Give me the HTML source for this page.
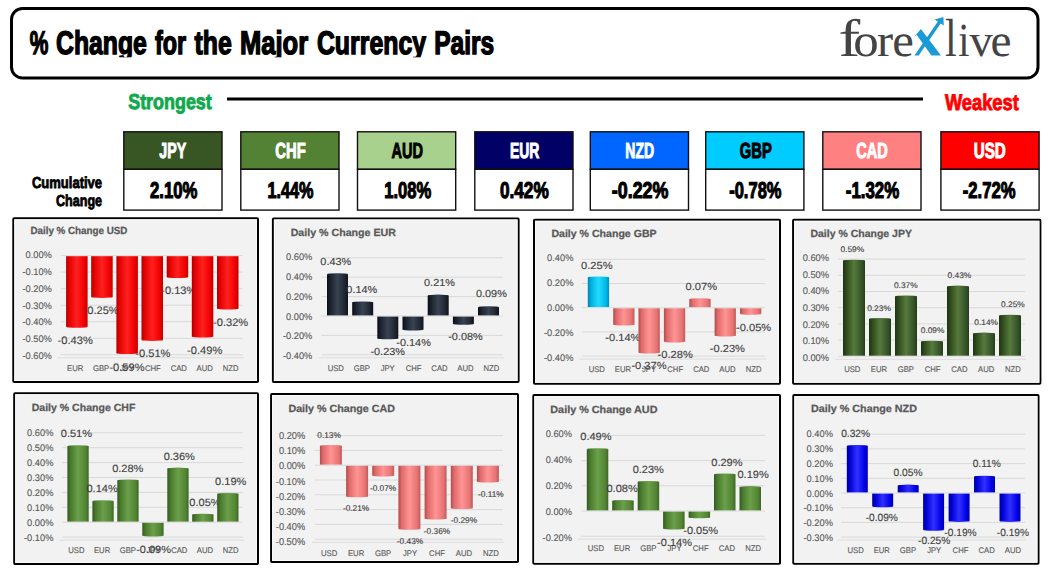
<!DOCTYPE html><html><head><meta charset="utf-8"><style>html,body{margin:0;padding:0;background:#fff;width:1049px;height:573px;overflow:hidden;position:relative}</style></head><body><svg width="1049" height="573" viewBox="0 0 1049 573" text-rendering="geometricPrecision" style="position:absolute;left:0;top:0">
<defs>
<linearGradient id="g_red" x1="0" x2="1" y1="0" y2="0"><stop offset="0" stop-color="#a80000"/><stop offset="0.12" stop-color="#e00000"/><stop offset="0.5" stop-color="#ff2020"/><stop offset="0.85" stop-color="#f00000"/><stop offset="1" stop-color="#c00000"/></linearGradient>
<linearGradient id="g_navy" x1="0" x2="1" y1="0" y2="0"><stop offset="0" stop-color="#0a0e14"/><stop offset="0.15" stop-color="#1a212c"/><stop offset="0.5" stop-color="#384352"/><stop offset="0.85" stop-color="#1e2530"/><stop offset="1" stop-color="#0e121a"/></linearGradient>
<linearGradient id="g_cyan" x1="0" x2="1" y1="0" y2="0"><stop offset="0" stop-color="#0080b0"/><stop offset="0.15" stop-color="#00b0e0"/><stop offset="0.5" stop-color="#20dcff"/><stop offset="0.85" stop-color="#00b8e8"/><stop offset="1" stop-color="#0090c0"/></linearGradient>
<linearGradient id="g_pink" x1="0" x2="1" y1="0" y2="0"><stop offset="0" stop-color="#b04c4c"/><stop offset="0.15" stop-color="#e06a6a"/><stop offset="0.5" stop-color="#ff9494"/><stop offset="0.85" stop-color="#e87474"/><stop offset="1" stop-color="#c05a5a"/></linearGradient>
<linearGradient id="g_dgreen" x1="0" x2="1" y1="0" y2="0"><stop offset="0" stop-color="#1f3312"/><stop offset="0.15" stop-color="#2e4a1c"/><stop offset="0.5" stop-color="#577a3c"/><stop offset="0.85" stop-color="#35532a"/><stop offset="1" stop-color="#253c16"/></linearGradient>
<linearGradient id="g_green" x1="0" x2="1" y1="0" y2="0"><stop offset="0" stop-color="#35581f"/><stop offset="0.15" stop-color="#487a2c"/><stop offset="0.5" stop-color="#6c9f4a"/><stop offset="0.85" stop-color="#538634"/><stop offset="1" stop-color="#3d6625"/></linearGradient>
<linearGradient id="g_blue" x1="0" x2="1" y1="0" y2="0"><stop offset="0" stop-color="#000090"/><stop offset="0.15" stop-color="#0000d8"/><stop offset="0.5" stop-color="#3030ff"/><stop offset="0.85" stop-color="#0000e8"/><stop offset="1" stop-color="#0000a8"/></linearGradient>
</defs>
<rect x="0" y="0" width="1049" height="573" fill="#fff"/>
<rect x="11.5" y="8.5" width="1026.5" height="69.5" rx="11" ry="11" fill="#fff" stroke="#000" stroke-width="3"/>
<clipPath id="clipT"><rect x="0" y="0" width="1049" height="57.2"/></clipPath><g clip-path="url(#clipT)">
<text x="29.8" y="53.8" font-family="Liberation Sans" font-size="32.78" font-weight="bold" fill="#000" textLength="18.6" lengthAdjust="spacingAndGlyphs" stroke="#000" stroke-width="1.4" paint-order="stroke">%</text>
<text x="56.1" y="53.8" font-family="Liberation Sans" font-size="32.78" font-weight="bold" fill="#000" textLength="90.8" lengthAdjust="spacingAndGlyphs" stroke="#000" stroke-width="1.4" paint-order="stroke">Change</text>
<text x="155.0" y="53.8" font-family="Liberation Sans" font-size="32.78" font-weight="bold" fill="#000" textLength="31.2" lengthAdjust="spacingAndGlyphs" stroke="#000" stroke-width="1.4" paint-order="stroke">for</text>
<text x="194.5" y="53.8" font-family="Liberation Sans" font-size="32.78" font-weight="bold" fill="#000" textLength="37.2" lengthAdjust="spacingAndGlyphs" stroke="#000" stroke-width="1.4" paint-order="stroke">the</text>
<text x="239.9" y="53.8" font-family="Liberation Sans" font-size="32.78" font-weight="bold" fill="#000" textLength="68.2" lengthAdjust="spacingAndGlyphs" stroke="#000" stroke-width="1.4" paint-order="stroke">Major</text>
<text x="316.9" y="53.8" font-family="Liberation Sans" font-size="32.78" font-weight="bold" fill="#000" textLength="109.2" lengthAdjust="spacingAndGlyphs" stroke="#000" stroke-width="1.4" paint-order="stroke">Currency</text>
<text x="434.2" y="53.8" font-family="Liberation Sans" font-size="32.78" font-weight="bold" fill="#000" textLength="60.0" lengthAdjust="spacingAndGlyphs" stroke="#000" stroke-width="1.4" paint-order="stroke">Pairs</text>
</g>
<g>
<text transform="translate(838.59,56.30) scale(1.417,1.152)" x="0" y="0" font-family="Liberation Serif" font-size="46" fill="#444">f</text>
<text transform="translate(853.16,56.30) scale(1.108,1.000)" x="0" y="0" font-family="Liberation Serif" font-size="46" fill="#444">o</text>
<text transform="translate(876.93,56.30) scale(1.051,1.000)" x="0" y="0" font-family="Liberation Serif" font-size="46" fill="#444">r</text>
<text transform="translate(892.20,56.30) scale(1.057,1.000)" x="0" y="0" font-family="Liberation Serif" font-size="46" fill="#444">e</text>
<text transform="translate(944.96,56.30) scale(0.914,1.169)" x="0" y="0" font-family="Liberation Serif" font-size="46" fill="#444">l</text>
<text transform="translate(958.35,56.30) scale(0.878,1.031)" x="0" y="0" font-family="Liberation Serif" font-size="46" fill="#444">i</text>
<text transform="translate(969.60,56.30) scale(1.004,1.000)" x="0" y="0" font-family="Liberation Serif" font-size="46" fill="#444">v</text>
<text transform="translate(990.45,56.30) scale(1.028,1.000)" x="0" y="0" font-family="Liberation Serif" font-size="46" fill="#444">e</text>
<path d="M920.9 29 L941 55.6 L931.4 55.6 L916.8 35 L914.2 36.8 Z" fill="#1c9ad6"/>
<path d="M914.4 55.6 L918.7 55.6 L941 22.9 L938.4 20.7 Z" fill="#1c9ad6"/>
<path d="M943.4 17 L934.6 19.4 L943.8 25.4 Z" fill="#1c9ad6"/>
</g>
<text x="128.2" y="109.4" font-family="Liberation Sans" font-size="21.67" font-weight="bold" fill="#10a84c" textLength="83.6" lengthAdjust="spacingAndGlyphs" stroke="#10a84c" stroke-width="0.9" paint-order="stroke">Strongest</text>
<rect x="227" y="97.5" width="696" height="3" fill="#000"/>
<text x="944.9" y="109.8" font-family="Liberation Sans" font-size="22.50" font-weight="bold" fill="#f00" textLength="73.9" lengthAdjust="spacingAndGlyphs" stroke="#f00" stroke-width="0.9" paint-order="stroke">Weakest</text>
<rect x="123.8" y="131.8" width="98.2" height="37.5" fill="#375623" stroke="#111" stroke-width="1.4"/>
<rect x="123.8" y="169.3" width="98.2" height="40.8" fill="#fff" stroke="#111" stroke-width="1.4"/>
<text x="159.3" y="158.4" font-family="Liberation Sans" font-size="21.95" font-weight="bold" fill="#fff" textLength="26.9" lengthAdjust="spacingAndGlyphs" stroke="#fff" stroke-width="1.0" paint-order="stroke">JPY</text>
<text x="150.0" y="198.0" font-family="Liberation Sans" font-size="22.77" font-weight="bold" fill="#000" textLength="47.5" lengthAdjust="spacingAndGlyphs" stroke="#000" stroke-width="1.1" paint-order="stroke">2.10%</text>
<rect x="240.8" y="131.8" width="98.2" height="37.5" fill="#548235" stroke="#111" stroke-width="1.4"/>
<rect x="240.8" y="169.3" width="98.2" height="40.8" fill="#fff" stroke="#111" stroke-width="1.4"/>
<text x="275.3" y="158.4" font-family="Liberation Sans" font-size="21.95" font-weight="bold" fill="#fff" textLength="30.4" lengthAdjust="spacingAndGlyphs" stroke="#fff" stroke-width="1.0" paint-order="stroke">CHF</text>
<text x="267.4" y="198.0" font-family="Liberation Sans" font-size="22.77" font-weight="bold" fill="#000" textLength="46.1" lengthAdjust="spacingAndGlyphs" stroke="#000" stroke-width="1.1" paint-order="stroke">1.44%</text>
<rect x="357.5" y="131.8" width="98.2" height="37.5" fill="#a9d18e" stroke="#111" stroke-width="1.4"/>
<rect x="357.5" y="169.3" width="98.2" height="40.8" fill="#fff" stroke="#111" stroke-width="1.4"/>
<text x="391.4" y="158.4" font-family="Liberation Sans" font-size="21.95" font-weight="bold" fill="#000" textLength="31.5" lengthAdjust="spacingAndGlyphs" stroke="#000" stroke-width="1.0" paint-order="stroke">AUD</text>
<text x="384.2" y="198.0" font-family="Liberation Sans" font-size="22.77" font-weight="bold" fill="#000" textLength="47.1" lengthAdjust="spacingAndGlyphs" stroke="#000" stroke-width="1.1" paint-order="stroke">1.08%</text>
<rect x="474.8" y="131.8" width="98.2" height="37.5" fill="#000066" stroke="#111" stroke-width="1.4"/>
<rect x="474.8" y="169.3" width="98.2" height="40.8" fill="#fff" stroke="#111" stroke-width="1.4"/>
<text x="509.9" y="158.4" font-family="Liberation Sans" font-size="21.95" font-weight="bold" fill="#fff" textLength="29.4" lengthAdjust="spacingAndGlyphs" stroke="#fff" stroke-width="1.0" paint-order="stroke">EUR</text>
<text x="499.9" y="198.0" font-family="Liberation Sans" font-size="22.77" font-weight="bold" fill="#000" textLength="48.8" lengthAdjust="spacingAndGlyphs" stroke="#000" stroke-width="1.1" paint-order="stroke">0.42%</text>
<rect x="590.3" y="131.8" width="98.2" height="37.5" fill="#0066ff" stroke="#111" stroke-width="1.4"/>
<rect x="590.3" y="169.3" width="98.2" height="40.8" fill="#fff" stroke="#111" stroke-width="1.4"/>
<text x="625.3" y="158.4" font-family="Liberation Sans" font-size="21.95" font-weight="bold" fill="#fff" textLength="28.8" lengthAdjust="spacingAndGlyphs" stroke="#fff" stroke-width="1.0" paint-order="stroke">NZD</text>
<text x="611.8" y="198.0" font-family="Liberation Sans" font-size="22.77" font-weight="bold" fill="#000" textLength="56.6" lengthAdjust="spacingAndGlyphs" stroke="#000" stroke-width="1.1" paint-order="stroke">-0.22%</text>
<rect x="705.7" y="131.8" width="98.2" height="37.5" fill="#00ccff" stroke="#111" stroke-width="1.4"/>
<rect x="705.7" y="169.3" width="98.2" height="40.8" fill="#fff" stroke="#111" stroke-width="1.4"/>
<text x="739.7" y="158.4" font-family="Liberation Sans" font-size="21.95" font-weight="bold" fill="#000" textLength="32.1" lengthAdjust="spacingAndGlyphs" stroke="#000" stroke-width="1.0" paint-order="stroke">GBP</text>
<text x="729.2" y="198.0" font-family="Liberation Sans" font-size="22.77" font-weight="bold" fill="#000" textLength="52.3" lengthAdjust="spacingAndGlyphs" stroke="#000" stroke-width="1.1" paint-order="stroke">-0.78%</text>
<rect x="822.8" y="131.8" width="98.2" height="37.5" fill="#ff8080" stroke="#111" stroke-width="1.4"/>
<rect x="822.8" y="169.3" width="98.2" height="40.8" fill="#fff" stroke="#111" stroke-width="1.4"/>
<text x="856.2" y="158.4" font-family="Liberation Sans" font-size="21.95" font-weight="bold" fill="#fff" textLength="31.5" lengthAdjust="spacingAndGlyphs" stroke="#fff" stroke-width="1.0" paint-order="stroke">CAD</text>
<text x="845.8" y="198.0" font-family="Liberation Sans" font-size="22.77" font-weight="bold" fill="#000" textLength="53.4" lengthAdjust="spacingAndGlyphs" stroke="#000" stroke-width="1.1" paint-order="stroke">-1.32%</text>
<rect x="940.9" y="131.8" width="98.2" height="37.5" fill="#ff0000" stroke="#111" stroke-width="1.4"/>
<rect x="940.9" y="169.3" width="98.2" height="40.8" fill="#fff" stroke="#111" stroke-width="1.4"/>
<text x="973.7" y="158.4" font-family="Liberation Sans" font-size="21.95" font-weight="bold" fill="#fff" textLength="32.1" lengthAdjust="spacingAndGlyphs" stroke="#fff" stroke-width="1.0" paint-order="stroke">USD</text>
<text x="962.8" y="198.0" font-family="Liberation Sans" font-size="22.77" font-weight="bold" fill="#000" textLength="52.8" lengthAdjust="spacingAndGlyphs" stroke="#000" stroke-width="1.1" paint-order="stroke">-2.72%</text>
<text x="31.9" y="187.8" font-family="Liberation Sans" font-size="15.91" font-weight="bold" fill="#000" textLength="70.2" lengthAdjust="spacingAndGlyphs" stroke="#000" stroke-width="0.8" paint-order="stroke">Cumulative</text>
<text x="56.0" y="205.9" font-family="Liberation Sans" font-size="15.91" font-weight="bold" fill="#000" textLength="46.1" lengthAdjust="spacingAndGlyphs" stroke="#000" stroke-width="0.8" paint-order="stroke">Change</text>
<rect x="13.3" y="218.3" width="244.7" height="163.7" fill="#f2f2f2" stroke="#000" stroke-width="2" rx="0.8"/>
<rect x="14.8" y="219.8" width="241.7" height="160.7" fill="none" stroke="#fafafa" stroke-width="1"/>
<text x="30.4" y="233.5" font-family="Liberation Sans" font-size="10.40" font-weight="bold" fill="#595959" textLength="97.0" lengthAdjust="spacingAndGlyphs" stroke="#595959" stroke-width="0.25">Daily % Change USD</text>
<rect x="60.6" y="255.1" width="182.2" height="1" fill="#d9d9d9"/>
<text x="51.8" y="258.3" font-family="Liberation Sans" font-size="9.50" fill="#595959" text-anchor="end" textLength="26.3" lengthAdjust="spacingAndGlyphs" stroke="#595959" stroke-width="0.12">0.00%</text>
<rect x="60.6" y="271.6" width="182.2" height="1" fill="#d9d9d9"/>
<text x="51.8" y="275.1" font-family="Liberation Sans" font-size="9.50" fill="#595959" text-anchor="end" textLength="29.4" lengthAdjust="spacingAndGlyphs" stroke="#595959" stroke-width="0.12">-0.10%</text>
<rect x="60.6" y="288.2" width="182.2" height="1" fill="#d9d9d9"/>
<text x="51.8" y="291.9" font-family="Liberation Sans" font-size="9.50" fill="#595959" text-anchor="end" textLength="29.4" lengthAdjust="spacingAndGlyphs" stroke="#595959" stroke-width="0.12">-0.20%</text>
<rect x="60.6" y="304.7" width="182.2" height="1" fill="#d9d9d9"/>
<text x="51.8" y="308.6" font-family="Liberation Sans" font-size="9.50" fill="#595959" text-anchor="end" textLength="29.4" lengthAdjust="spacingAndGlyphs" stroke="#595959" stroke-width="0.12">-0.30%</text>
<rect x="60.6" y="321.2" width="182.2" height="1" fill="#d9d9d9"/>
<text x="51.8" y="325.4" font-family="Liberation Sans" font-size="9.50" fill="#595959" text-anchor="end" textLength="29.4" lengthAdjust="spacingAndGlyphs" stroke="#595959" stroke-width="0.12">-0.40%</text>
<rect x="60.6" y="337.8" width="182.2" height="1" fill="#d9d9d9"/>
<text x="51.8" y="342.2" font-family="Liberation Sans" font-size="9.50" fill="#595959" text-anchor="end" textLength="29.4" lengthAdjust="spacingAndGlyphs" stroke="#595959" stroke-width="0.12">-0.50%</text>
<rect x="60.6" y="354.3" width="182.2" height="1" fill="#d9d9d9"/>
<rect x="57.6" y="357.3" width="186.2" height="1" fill="#dcdcdc"/>
<text x="51.8" y="358.9" font-family="Liberation Sans" font-size="9.50" fill="#595959" text-anchor="end" textLength="29.4" lengthAdjust="spacingAndGlyphs" stroke="#595959" stroke-width="0.12">-0.60%</text>
<rect x="66.1" y="256.2" width="21.5" height="70.5" fill="url(#g_red)"/>
<ellipse cx="76.8" cy="326.7" rx="10.8" ry="1.0" fill="url(#g_red)"/>
<text x="75.2" y="371.0" font-family="Liberation Sans" font-size="8.20" fill="#595959" text-anchor="middle" textLength="16.3" lengthAdjust="spacingAndGlyphs" stroke="#595959" stroke-width="0.12">EUR</text>
<text x="75.2" y="344.0" font-family="Liberation Sans" font-size="10.90" fill="#404040" text-anchor="middle" textLength="35.2" lengthAdjust="spacingAndGlyphs" stroke="#404040" stroke-width="0.12">-0.43%</text>
<rect x="91.2" y="256.2" width="21.5" height="40.7" fill="url(#g_red)"/>
<ellipse cx="102.0" cy="296.9" rx="10.8" ry="1.0" fill="url(#g_red)"/>
<text x="101.1" y="371.0" font-family="Liberation Sans" font-size="8.20" fill="#595959" text-anchor="middle" textLength="16.3" lengthAdjust="spacingAndGlyphs" stroke="#595959" stroke-width="0.12">GBP</text>
<text x="101.1" y="314.3" font-family="Liberation Sans" font-size="10.90" fill="#404040" text-anchor="middle" textLength="35.2" lengthAdjust="spacingAndGlyphs" stroke="#404040" stroke-width="0.12">-0.25%</text>
<rect x="116.4" y="256.2" width="21.5" height="96.9" fill="url(#g_red)"/>
<ellipse cx="127.1" cy="353.1" rx="10.8" ry="1.0" fill="url(#g_red)"/>
<text x="127.0" y="371.0" font-family="Liberation Sans" font-size="8.20" fill="#595959" text-anchor="middle" textLength="14.1" lengthAdjust="spacingAndGlyphs" stroke="#595959" stroke-width="0.12">JPY</text>
<text x="127.0" y="370.5" font-family="Liberation Sans" font-size="10.90" fill="#404040" text-anchor="middle" textLength="35.2" lengthAdjust="spacingAndGlyphs" stroke="#404040" stroke-width="0.12">-0.59%</text>
<rect x="141.5" y="256.2" width="21.5" height="83.7" fill="url(#g_red)"/>
<ellipse cx="152.3" cy="339.9" rx="10.8" ry="1.0" fill="url(#g_red)"/>
<text x="152.9" y="371.0" font-family="Liberation Sans" font-size="8.20" fill="#595959" text-anchor="middle" textLength="15.8" lengthAdjust="spacingAndGlyphs" stroke="#595959" stroke-width="0.12">CHF</text>
<text x="152.9" y="357.2" font-family="Liberation Sans" font-size="10.90" fill="#404040" text-anchor="middle" textLength="35.2" lengthAdjust="spacingAndGlyphs" stroke="#404040" stroke-width="0.12">-0.51%</text>
<rect x="166.7" y="256.2" width="21.5" height="20.9" fill="url(#g_red)"/>
<ellipse cx="177.4" cy="277.1" rx="10.8" ry="1.0" fill="url(#g_red)"/>
<text x="178.8" y="371.0" font-family="Liberation Sans" font-size="8.20" fill="#595959" text-anchor="middle" textLength="16.3" lengthAdjust="spacingAndGlyphs" stroke="#595959" stroke-width="0.12">CAD</text>
<text x="178.8" y="294.4" font-family="Liberation Sans" font-size="10.90" fill="#404040" text-anchor="middle" textLength="35.2" lengthAdjust="spacingAndGlyphs" stroke="#404040" stroke-width="0.12">-0.13%</text>
<rect x="191.8" y="256.2" width="21.5" height="80.4" fill="url(#g_red)"/>
<ellipse cx="202.6" cy="336.6" rx="10.8" ry="1.0" fill="url(#g_red)"/>
<text x="204.7" y="371.0" font-family="Liberation Sans" font-size="8.20" fill="#595959" text-anchor="middle" textLength="16.3" lengthAdjust="spacingAndGlyphs" stroke="#595959" stroke-width="0.12">AUD</text>
<text x="204.7" y="353.9" font-family="Liberation Sans" font-size="10.90" fill="#404040" text-anchor="middle" textLength="35.2" lengthAdjust="spacingAndGlyphs" stroke="#404040" stroke-width="0.12">-0.49%</text>
<rect x="217.0" y="256.2" width="21.5" height="52.3" fill="url(#g_red)"/>
<ellipse cx="227.7" cy="308.5" rx="10.8" ry="1.0" fill="url(#g_red)"/>
<text x="230.6" y="371.0" font-family="Liberation Sans" font-size="8.20" fill="#595959" text-anchor="middle" textLength="15.8" lengthAdjust="spacingAndGlyphs" stroke="#595959" stroke-width="0.12">NZD</text>
<text x="230.6" y="325.8" font-family="Liberation Sans" font-size="10.90" fill="#404040" text-anchor="middle" textLength="35.2" lengthAdjust="spacingAndGlyphs" stroke="#404040" stroke-width="0.12">-0.32%</text>
<rect x="272.9" y="218.4" width="245.7" height="163.6" fill="#f2f2f2" stroke="#000" stroke-width="2" rx="0.8"/>
<rect x="274.4" y="219.9" width="242.7" height="160.6" fill="none" stroke="#fafafa" stroke-width="1"/>
<text x="290.7" y="235.8" font-family="Liberation Sans" font-size="10.40" font-weight="bold" fill="#595959" textLength="105.2" lengthAdjust="spacingAndGlyphs" stroke="#595959" stroke-width="0.25">Daily % Change EUR</text>
<rect x="321.5" y="257.3" width="181.5" height="1" fill="#d9d9d9"/>
<text x="312.3" y="260.1" font-family="Liberation Sans" font-size="9.50" fill="#595959" text-anchor="end" textLength="26.3" lengthAdjust="spacingAndGlyphs" stroke="#595959" stroke-width="0.12">0.60%</text>
<rect x="321.5" y="276.7" width="181.5" height="1" fill="#d9d9d9"/>
<text x="312.3" y="279.9" font-family="Liberation Sans" font-size="9.50" fill="#595959" text-anchor="end" textLength="26.3" lengthAdjust="spacingAndGlyphs" stroke="#595959" stroke-width="0.12">0.40%</text>
<rect x="321.5" y="296.1" width="181.5" height="1" fill="#d9d9d9"/>
<text x="312.3" y="299.7" font-family="Liberation Sans" font-size="9.50" fill="#595959" text-anchor="end" textLength="26.3" lengthAdjust="spacingAndGlyphs" stroke="#595959" stroke-width="0.12">0.20%</text>
<rect x="321.5" y="315.5" width="181.5" height="1" fill="#d9d9d9"/>
<text x="312.3" y="319.5" font-family="Liberation Sans" font-size="9.50" fill="#595959" text-anchor="end" textLength="26.3" lengthAdjust="spacingAndGlyphs" stroke="#595959" stroke-width="0.12">0.00%</text>
<rect x="321.5" y="334.9" width="181.5" height="1" fill="#d9d9d9"/>
<text x="312.3" y="339.3" font-family="Liberation Sans" font-size="9.50" fill="#595959" text-anchor="end" textLength="29.4" lengthAdjust="spacingAndGlyphs" stroke="#595959" stroke-width="0.12">-0.20%</text>
<rect x="321.5" y="354.3" width="181.5" height="1" fill="#d9d9d9"/>
<rect x="318.5" y="357.3" width="185.5" height="1" fill="#dcdcdc"/>
<text x="312.3" y="359.1" font-family="Liberation Sans" font-size="9.50" fill="#595959" text-anchor="end" textLength="29.4" lengthAdjust="spacingAndGlyphs" stroke="#595959" stroke-width="0.12">-0.40%</text>
<rect x="327.0" y="274.3" width="21.0" height="41.1" fill="url(#g_navy)"/>
<ellipse cx="337.5" cy="274.3" rx="10.5" ry="1.0" fill="url(#g_navy)"/>
<text x="335.8" y="371.0" font-family="Liberation Sans" font-size="8.20" fill="#595959" text-anchor="middle" textLength="16.3" lengthAdjust="spacingAndGlyphs" stroke="#595959" stroke-width="0.12">USD</text>
<text x="335.8" y="264.5" font-family="Liberation Sans" font-size="10.20" fill="#404040" text-anchor="middle" textLength="30.9" lengthAdjust="spacingAndGlyphs" stroke="#404040" stroke-width="0.12">0.43%</text>
<rect x="352.2" y="302.4" width="21.0" height="13.0" fill="url(#g_navy)"/>
<ellipse cx="362.7" cy="302.4" rx="10.5" ry="1.0" fill="url(#g_navy)"/>
<text x="361.8" y="371.0" font-family="Liberation Sans" font-size="8.20" fill="#595959" text-anchor="middle" textLength="16.3" lengthAdjust="spacingAndGlyphs" stroke="#595959" stroke-width="0.12">GBP</text>
<text x="361.8" y="292.6" font-family="Liberation Sans" font-size="10.20" fill="#404040" text-anchor="middle" textLength="30.9" lengthAdjust="spacingAndGlyphs" stroke="#404040" stroke-width="0.12">0.14%</text>
<rect x="377.3" y="316.6" width="21.0" height="21.7" fill="url(#g_navy)"/>
<ellipse cx="387.8" cy="338.3" rx="10.5" ry="1.0" fill="url(#g_navy)"/>
<text x="387.7" y="371.0" font-family="Liberation Sans" font-size="8.20" fill="#595959" text-anchor="middle" textLength="14.1" lengthAdjust="spacingAndGlyphs" stroke="#595959" stroke-width="0.12">JPY</text>
<text x="387.7" y="355.0" font-family="Liberation Sans" font-size="10.20" fill="#404040" text-anchor="middle" textLength="34.6" lengthAdjust="spacingAndGlyphs" stroke="#404040" stroke-width="0.12">-0.23%</text>
<rect x="402.5" y="316.6" width="21.0" height="13.0" fill="url(#g_navy)"/>
<ellipse cx="413.0" cy="329.6" rx="10.5" ry="1.0" fill="url(#g_navy)"/>
<text x="413.6" y="371.0" font-family="Liberation Sans" font-size="8.20" fill="#595959" text-anchor="middle" textLength="15.8" lengthAdjust="spacingAndGlyphs" stroke="#595959" stroke-width="0.12">CHF</text>
<text x="413.6" y="346.3" font-family="Liberation Sans" font-size="10.20" fill="#404040" text-anchor="middle" textLength="34.6" lengthAdjust="spacingAndGlyphs" stroke="#404040" stroke-width="0.12">-0.14%</text>
<rect x="427.7" y="295.6" width="21.0" height="19.8" fill="url(#g_navy)"/>
<ellipse cx="438.2" cy="295.6" rx="10.5" ry="1.0" fill="url(#g_navy)"/>
<text x="439.5" y="371.0" font-family="Liberation Sans" font-size="8.20" fill="#595959" text-anchor="middle" textLength="16.3" lengthAdjust="spacingAndGlyphs" stroke="#595959" stroke-width="0.12">CAD</text>
<text x="439.5" y="285.8" font-family="Liberation Sans" font-size="10.20" fill="#404040" text-anchor="middle" textLength="30.9" lengthAdjust="spacingAndGlyphs" stroke="#404040" stroke-width="0.12">0.21%</text>
<rect x="452.9" y="316.6" width="21.0" height="7.2" fill="url(#g_navy)"/>
<ellipse cx="463.4" cy="323.8" rx="10.5" ry="1.0" fill="url(#g_navy)"/>
<text x="465.5" y="371.0" font-family="Liberation Sans" font-size="8.20" fill="#595959" text-anchor="middle" textLength="16.3" lengthAdjust="spacingAndGlyphs" stroke="#595959" stroke-width="0.12">AUD</text>
<text x="465.5" y="340.4" font-family="Liberation Sans" font-size="10.20" fill="#404040" text-anchor="middle" textLength="34.6" lengthAdjust="spacingAndGlyphs" stroke="#404040" stroke-width="0.12">-0.08%</text>
<rect x="478.0" y="307.3" width="21.0" height="8.1" fill="url(#g_navy)"/>
<ellipse cx="488.5" cy="307.3" rx="10.5" ry="1.0" fill="url(#g_navy)"/>
<text x="491.4" y="371.0" font-family="Liberation Sans" font-size="8.20" fill="#595959" text-anchor="middle" textLength="15.8" lengthAdjust="spacingAndGlyphs" stroke="#595959" stroke-width="0.12">NZD</text>
<text x="491.4" y="297.4" font-family="Liberation Sans" font-size="10.20" fill="#404040" text-anchor="middle" textLength="30.9" lengthAdjust="spacingAndGlyphs" stroke="#404040" stroke-width="0.12">0.09%</text>
<rect x="534.0" y="219.8" width="246.0" height="164.0" fill="#f2f2f2" stroke="#000" stroke-width="2" rx="0.8"/>
<rect x="535.5" y="221.3" width="243.0" height="161.0" fill="none" stroke="#fafafa" stroke-width="1"/>
<text x="551.4" y="237.4" font-family="Liberation Sans" font-size="10.40" font-weight="bold" fill="#595959" textLength="105.2" lengthAdjust="spacingAndGlyphs" stroke="#595959" stroke-width="0.25">Daily % Change GBP</text>
<rect x="582.0" y="258.8" width="183.0" height="1" fill="#d9d9d9"/>
<text x="573.4" y="261.1" font-family="Liberation Sans" font-size="9.50" fill="#595959" text-anchor="end" textLength="26.3" lengthAdjust="spacingAndGlyphs" stroke="#595959" stroke-width="0.12">0.40%</text>
<rect x="582.0" y="283.0" width="183.0" height="1" fill="#d9d9d9"/>
<text x="573.4" y="286.2" font-family="Liberation Sans" font-size="9.50" fill="#595959" text-anchor="end" textLength="26.3" lengthAdjust="spacingAndGlyphs" stroke="#595959" stroke-width="0.12">0.20%</text>
<rect x="582.0" y="307.2" width="183.0" height="1" fill="#d9d9d9"/>
<text x="573.4" y="311.2" font-family="Liberation Sans" font-size="9.50" fill="#595959" text-anchor="end" textLength="26.3" lengthAdjust="spacingAndGlyphs" stroke="#595959" stroke-width="0.12">0.00%</text>
<rect x="582.0" y="331.4" width="183.0" height="1" fill="#d9d9d9"/>
<text x="573.4" y="336.3" font-family="Liberation Sans" font-size="9.50" fill="#595959" text-anchor="end" textLength="29.4" lengthAdjust="spacingAndGlyphs" stroke="#595959" stroke-width="0.12">-0.20%</text>
<rect x="582.0" y="355.6" width="183.0" height="1" fill="#d9d9d9"/>
<rect x="579.0" y="358.6" width="187.0" height="1" fill="#dcdcdc"/>
<text x="573.4" y="361.3" font-family="Liberation Sans" font-size="9.50" fill="#595959" text-anchor="end" textLength="29.4" lengthAdjust="spacingAndGlyphs" stroke="#595959" stroke-width="0.12">-0.40%</text>
<rect x="587.8" y="277.4" width="21.3" height="29.6" fill="url(#g_cyan)"/>
<ellipse cx="598.4" cy="277.4" rx="10.7" ry="1.0" fill="url(#g_cyan)"/>
<text x="596.8" y="372.3" font-family="Liberation Sans" font-size="8.20" fill="#595959" text-anchor="middle" textLength="16.3" lengthAdjust="spacingAndGlyphs" stroke="#595959" stroke-width="0.12">USD</text>
<text x="596.8" y="268.6" font-family="Liberation Sans" font-size="10.30" fill="#404040" text-anchor="middle" textLength="31.5" lengthAdjust="spacingAndGlyphs" stroke="#404040" stroke-width="0.12">0.25%</text>
<rect x="613.2" y="308.3" width="21.3" height="16.3" fill="url(#g_pink)"/>
<ellipse cx="623.8" cy="324.6" rx="10.7" ry="1.0" fill="url(#g_pink)"/>
<text x="622.9" y="372.3" font-family="Liberation Sans" font-size="8.20" fill="#595959" text-anchor="middle" textLength="16.3" lengthAdjust="spacingAndGlyphs" stroke="#595959" stroke-width="0.12">EUR</text>
<text x="622.9" y="341.4" font-family="Liberation Sans" font-size="10.30" fill="#404040" text-anchor="middle" textLength="35.2" lengthAdjust="spacingAndGlyphs" stroke="#404040" stroke-width="0.12">-0.14%</text>
<rect x="638.5" y="308.3" width="21.3" height="44.2" fill="url(#g_pink)"/>
<ellipse cx="649.2" cy="352.5" rx="10.7" ry="1.0" fill="url(#g_pink)"/>
<text x="649.0" y="372.3" font-family="Liberation Sans" font-size="8.20" fill="#595959" text-anchor="middle" textLength="14.1" lengthAdjust="spacingAndGlyphs" stroke="#595959" stroke-width="0.12">JPY</text>
<text x="649.0" y="369.2" font-family="Liberation Sans" font-size="10.30" fill="#404040" text-anchor="middle" textLength="35.2" lengthAdjust="spacingAndGlyphs" stroke="#404040" stroke-width="0.12">-0.37%</text>
<rect x="663.9" y="308.3" width="21.3" height="33.3" fill="url(#g_pink)"/>
<ellipse cx="674.6" cy="341.6" rx="10.7" ry="1.0" fill="url(#g_pink)"/>
<text x="675.2" y="372.3" font-family="Liberation Sans" font-size="8.20" fill="#595959" text-anchor="middle" textLength="15.8" lengthAdjust="spacingAndGlyphs" stroke="#595959" stroke-width="0.12">CHF</text>
<text x="675.2" y="358.4" font-family="Liberation Sans" font-size="10.30" fill="#404040" text-anchor="middle" textLength="35.2" lengthAdjust="spacingAndGlyphs" stroke="#404040" stroke-width="0.12">-0.28%</text>
<rect x="689.3" y="299.2" width="21.3" height="7.9" fill="url(#g_pink)"/>
<ellipse cx="699.9" cy="299.2" rx="10.7" ry="1.0" fill="url(#g_pink)"/>
<text x="701.3" y="372.3" font-family="Liberation Sans" font-size="8.20" fill="#595959" text-anchor="middle" textLength="16.3" lengthAdjust="spacingAndGlyphs" stroke="#595959" stroke-width="0.12">CAD</text>
<text x="701.3" y="290.4" font-family="Liberation Sans" font-size="10.30" fill="#404040" text-anchor="middle" textLength="31.5" lengthAdjust="spacingAndGlyphs" stroke="#404040" stroke-width="0.12">0.07%</text>
<rect x="714.6" y="308.3" width="21.3" height="27.2" fill="url(#g_pink)"/>
<ellipse cx="725.3" cy="335.5" rx="10.7" ry="1.0" fill="url(#g_pink)"/>
<text x="727.4" y="372.3" font-family="Liberation Sans" font-size="8.20" fill="#595959" text-anchor="middle" textLength="16.3" lengthAdjust="spacingAndGlyphs" stroke="#595959" stroke-width="0.12">AUD</text>
<text x="727.4" y="352.3" font-family="Liberation Sans" font-size="10.30" fill="#404040" text-anchor="middle" textLength="35.2" lengthAdjust="spacingAndGlyphs" stroke="#404040" stroke-width="0.12">-0.23%</text>
<rect x="740.0" y="308.3" width="21.3" height="5.4" fill="url(#g_pink)"/>
<ellipse cx="750.7" cy="313.8" rx="10.7" ry="1.0" fill="url(#g_pink)"/>
<text x="753.6" y="372.3" font-family="Liberation Sans" font-size="8.20" fill="#595959" text-anchor="middle" textLength="15.8" lengthAdjust="spacingAndGlyphs" stroke="#595959" stroke-width="0.12">NZD</text>
<text x="753.6" y="330.5" font-family="Liberation Sans" font-size="10.30" fill="#404040" text-anchor="middle" textLength="35.2" lengthAdjust="spacingAndGlyphs" stroke="#404040" stroke-width="0.12">-0.05%</text>
<rect x="793.1" y="219.8" width="247.3" height="164.0" fill="#f2f2f2" stroke="#000" stroke-width="2" rx="0.8"/>
<rect x="794.6" y="221.3" width="244.3" height="161.0" fill="none" stroke="#fafafa" stroke-width="1"/>
<text x="810.4" y="236.7" font-family="Liberation Sans" font-size="10.40" font-weight="bold" fill="#595959" textLength="101.5" lengthAdjust="spacingAndGlyphs" stroke="#595959" stroke-width="0.25">Daily % Change JPY</text>
<rect x="838.0" y="258.6" width="187.0" height="1" fill="#d9d9d9"/>
<text x="829.0" y="261.0" font-family="Liberation Sans" font-size="9.70" fill="#595959" text-anchor="end" textLength="26.3" lengthAdjust="spacingAndGlyphs" stroke="#595959" stroke-width="0.12">0.60%</text>
<rect x="838.0" y="274.8" width="187.0" height="1" fill="#d9d9d9"/>
<text x="829.0" y="277.7" font-family="Liberation Sans" font-size="9.70" fill="#595959" text-anchor="end" textLength="26.3" lengthAdjust="spacingAndGlyphs" stroke="#595959" stroke-width="0.12">0.50%</text>
<rect x="838.0" y="291.0" width="187.0" height="1" fill="#d9d9d9"/>
<text x="829.0" y="294.4" font-family="Liberation Sans" font-size="9.70" fill="#595959" text-anchor="end" textLength="26.3" lengthAdjust="spacingAndGlyphs" stroke="#595959" stroke-width="0.12">0.40%</text>
<rect x="838.0" y="307.2" width="187.0" height="1" fill="#d9d9d9"/>
<text x="829.0" y="311.0" font-family="Liberation Sans" font-size="9.70" fill="#595959" text-anchor="end" textLength="26.3" lengthAdjust="spacingAndGlyphs" stroke="#595959" stroke-width="0.12">0.30%</text>
<rect x="838.0" y="323.4" width="187.0" height="1" fill="#d9d9d9"/>
<text x="829.0" y="327.7" font-family="Liberation Sans" font-size="9.70" fill="#595959" text-anchor="end" textLength="26.3" lengthAdjust="spacingAndGlyphs" stroke="#595959" stroke-width="0.12">0.20%</text>
<rect x="838.0" y="339.6" width="187.0" height="1" fill="#d9d9d9"/>
<text x="829.0" y="344.4" font-family="Liberation Sans" font-size="9.70" fill="#595959" text-anchor="end" textLength="26.3" lengthAdjust="spacingAndGlyphs" stroke="#595959" stroke-width="0.12">0.10%</text>
<rect x="838.0" y="355.8" width="187.0" height="1" fill="#d9d9d9"/>
<rect x="835.0" y="358.8" width="191.0" height="1" fill="#dcdcdc"/>
<text x="829.0" y="361.1" font-family="Liberation Sans" font-size="9.70" fill="#595959" text-anchor="end" textLength="26.3" lengthAdjust="spacingAndGlyphs" stroke="#595959" stroke-width="0.12">0.00%</text>
<rect x="843.0" y="260.7" width="22.0" height="95.0" fill="url(#g_dgreen)"/>
<ellipse cx="854.0" cy="260.7" rx="11.0" ry="1.0" fill="url(#g_dgreen)"/>
<text x="852.3" y="371.7" font-family="Liberation Sans" font-size="8.20" fill="#595959" text-anchor="middle" textLength="16.3" lengthAdjust="spacingAndGlyphs" stroke="#595959" stroke-width="0.12">USD</text>
<text x="852.3" y="252.3" font-family="Liberation Sans" font-size="8.10" fill="#404040" text-anchor="middle" textLength="23.7" lengthAdjust="spacingAndGlyphs" stroke="#404040" stroke-width="0.12">0.59%</text>
<rect x="869.0" y="319.0" width="22.0" height="36.7" fill="url(#g_dgreen)"/>
<ellipse cx="880.0" cy="319.0" rx="11.0" ry="1.0" fill="url(#g_dgreen)"/>
<text x="879.0" y="371.7" font-family="Liberation Sans" font-size="8.20" fill="#595959" text-anchor="middle" textLength="16.3" lengthAdjust="spacingAndGlyphs" stroke="#595959" stroke-width="0.12">EUR</text>
<text x="879.0" y="310.6" font-family="Liberation Sans" font-size="8.10" fill="#404040" text-anchor="middle" textLength="23.7" lengthAdjust="spacingAndGlyphs" stroke="#404040" stroke-width="0.12">0.23%</text>
<rect x="895.0" y="296.4" width="22.0" height="59.3" fill="url(#g_dgreen)"/>
<ellipse cx="906.0" cy="296.4" rx="11.0" ry="1.0" fill="url(#g_dgreen)"/>
<text x="905.8" y="371.7" font-family="Liberation Sans" font-size="8.20" fill="#595959" text-anchor="middle" textLength="16.3" lengthAdjust="spacingAndGlyphs" stroke="#595959" stroke-width="0.12">GBP</text>
<text x="905.8" y="287.9" font-family="Liberation Sans" font-size="8.10" fill="#404040" text-anchor="middle" textLength="23.7" lengthAdjust="spacingAndGlyphs" stroke="#404040" stroke-width="0.12">0.37%</text>
<rect x="921.0" y="341.7" width="22.0" height="14.0" fill="url(#g_dgreen)"/>
<ellipse cx="932.0" cy="341.7" rx="11.0" ry="1.0" fill="url(#g_dgreen)"/>
<text x="932.6" y="371.7" font-family="Liberation Sans" font-size="8.20" fill="#595959" text-anchor="middle" textLength="15.8" lengthAdjust="spacingAndGlyphs" stroke="#595959" stroke-width="0.12">CHF</text>
<text x="932.6" y="333.3" font-family="Liberation Sans" font-size="8.10" fill="#404040" text-anchor="middle" textLength="23.7" lengthAdjust="spacingAndGlyphs" stroke="#404040" stroke-width="0.12">0.09%</text>
<rect x="947.0" y="286.6" width="22.0" height="69.1" fill="url(#g_dgreen)"/>
<ellipse cx="958.0" cy="286.6" rx="11.0" ry="1.0" fill="url(#g_dgreen)"/>
<text x="959.4" y="371.7" font-family="Liberation Sans" font-size="8.20" fill="#595959" text-anchor="middle" textLength="16.3" lengthAdjust="spacingAndGlyphs" stroke="#595959" stroke-width="0.12">CAD</text>
<text x="959.4" y="278.2" font-family="Liberation Sans" font-size="8.10" fill="#404040" text-anchor="middle" textLength="23.7" lengthAdjust="spacingAndGlyphs" stroke="#404040" stroke-width="0.12">0.43%</text>
<rect x="973.0" y="333.6" width="22.0" height="22.1" fill="url(#g_dgreen)"/>
<ellipse cx="984.0" cy="333.6" rx="11.0" ry="1.0" fill="url(#g_dgreen)"/>
<text x="986.2" y="371.7" font-family="Liberation Sans" font-size="8.20" fill="#595959" text-anchor="middle" textLength="16.3" lengthAdjust="spacingAndGlyphs" stroke="#595959" stroke-width="0.12">AUD</text>
<text x="986.2" y="325.2" font-family="Liberation Sans" font-size="8.10" fill="#404040" text-anchor="middle" textLength="23.7" lengthAdjust="spacingAndGlyphs" stroke="#404040" stroke-width="0.12">0.14%</text>
<rect x="999.0" y="315.8" width="22.0" height="39.9" fill="url(#g_dgreen)"/>
<ellipse cx="1010.0" cy="315.8" rx="11.0" ry="1.0" fill="url(#g_dgreen)"/>
<text x="1012.9" y="371.7" font-family="Liberation Sans" font-size="8.20" fill="#595959" text-anchor="middle" textLength="15.8" lengthAdjust="spacingAndGlyphs" stroke="#595959" stroke-width="0.12">NZD</text>
<text x="1012.9" y="307.4" font-family="Liberation Sans" font-size="8.10" fill="#404040" text-anchor="middle" textLength="23.7" lengthAdjust="spacingAndGlyphs" stroke="#404040" stroke-width="0.12">0.25%</text>
<rect x="14.2" y="393.2" width="243.8" height="170.8" fill="#f2f2f2" stroke="#000" stroke-width="2" rx="0.8"/>
<rect x="15.7" y="394.7" width="240.8" height="167.8" fill="none" stroke="#fafafa" stroke-width="1"/>
<text x="31.7" y="411.4" font-family="Liberation Sans" font-size="10.40" font-weight="bold" fill="#595959" textLength="103.7" lengthAdjust="spacingAndGlyphs" stroke="#595959" stroke-width="0.25">Daily % Change CHF</text>
<rect x="62.0" y="432.3" width="181.0" height="1" fill="#d9d9d9"/>
<text x="53.4" y="436.1" font-family="Liberation Sans" font-size="9.50" fill="#595959" text-anchor="end" textLength="26.3" lengthAdjust="spacingAndGlyphs" stroke="#595959" stroke-width="0.12">0.60%</text>
<rect x="62.0" y="447.2" width="181.0" height="1" fill="#d9d9d9"/>
<text x="53.4" y="451.1" font-family="Liberation Sans" font-size="9.50" fill="#595959" text-anchor="end" textLength="26.3" lengthAdjust="spacingAndGlyphs" stroke="#595959" stroke-width="0.12">0.50%</text>
<rect x="62.0" y="462.1" width="181.0" height="1" fill="#d9d9d9"/>
<text x="53.4" y="466.1" font-family="Liberation Sans" font-size="9.50" fill="#595959" text-anchor="end" textLength="26.3" lengthAdjust="spacingAndGlyphs" stroke="#595959" stroke-width="0.12">0.40%</text>
<rect x="62.0" y="477.0" width="181.0" height="1" fill="#d9d9d9"/>
<text x="53.4" y="481.1" font-family="Liberation Sans" font-size="9.50" fill="#595959" text-anchor="end" textLength="26.3" lengthAdjust="spacingAndGlyphs" stroke="#595959" stroke-width="0.12">0.30%</text>
<rect x="62.0" y="491.9" width="181.0" height="1" fill="#d9d9d9"/>
<text x="53.4" y="496.1" font-family="Liberation Sans" font-size="9.50" fill="#595959" text-anchor="end" textLength="26.3" lengthAdjust="spacingAndGlyphs" stroke="#595959" stroke-width="0.12">0.20%</text>
<rect x="62.0" y="506.8" width="181.0" height="1" fill="#d9d9d9"/>
<text x="53.4" y="511.0" font-family="Liberation Sans" font-size="9.50" fill="#595959" text-anchor="end" textLength="26.3" lengthAdjust="spacingAndGlyphs" stroke="#595959" stroke-width="0.12">0.10%</text>
<rect x="62.0" y="521.7" width="181.0" height="1" fill="#d9d9d9"/>
<text x="53.4" y="526.0" font-family="Liberation Sans" font-size="9.50" fill="#595959" text-anchor="end" textLength="26.3" lengthAdjust="spacingAndGlyphs" stroke="#595959" stroke-width="0.12">0.00%</text>
<rect x="62.0" y="536.6" width="181.0" height="1" fill="#d9d9d9"/>
<rect x="59.0" y="539.6" width="185.0" height="1" fill="#dcdcdc"/>
<text x="53.4" y="541.0" font-family="Liberation Sans" font-size="9.50" fill="#595959" text-anchor="end" textLength="29.4" lengthAdjust="spacingAndGlyphs" stroke="#595959" stroke-width="0.12">-0.10%</text>
<rect x="67.4" y="446.2" width="21.3" height="75.4" fill="url(#g_green)"/>
<ellipse cx="78.1" cy="446.2" rx="10.7" ry="1.0" fill="url(#g_green)"/>
<text x="76.4" y="553.2" font-family="Liberation Sans" font-size="8.20" fill="#595959" text-anchor="middle" textLength="16.3" lengthAdjust="spacingAndGlyphs" stroke="#595959" stroke-width="0.12">USD</text>
<text x="76.4" y="437.3" font-family="Liberation Sans" font-size="10.50" fill="#404040" text-anchor="middle" textLength="31.3" lengthAdjust="spacingAndGlyphs" stroke="#404040" stroke-width="0.12">0.51%</text>
<rect x="92.4" y="501.3" width="21.3" height="20.3" fill="url(#g_green)"/>
<ellipse cx="103.0" cy="501.3" rx="10.7" ry="1.0" fill="url(#g_green)"/>
<text x="102.1" y="553.2" font-family="Liberation Sans" font-size="8.20" fill="#595959" text-anchor="middle" textLength="16.3" lengthAdjust="spacingAndGlyphs" stroke="#595959" stroke-width="0.12">EUR</text>
<text x="102.1" y="492.4" font-family="Liberation Sans" font-size="10.50" fill="#404040" text-anchor="middle" textLength="31.3" lengthAdjust="spacingAndGlyphs" stroke="#404040" stroke-width="0.12">0.14%</text>
<rect x="117.3" y="480.5" width="21.3" height="41.1" fill="url(#g_green)"/>
<ellipse cx="128.0" cy="480.5" rx="10.7" ry="1.0" fill="url(#g_green)"/>
<text x="127.8" y="553.2" font-family="Liberation Sans" font-size="8.20" fill="#595959" text-anchor="middle" textLength="16.3" lengthAdjust="spacingAndGlyphs" stroke="#595959" stroke-width="0.12">GBP</text>
<text x="127.8" y="471.6" font-family="Liberation Sans" font-size="10.50" fill="#404040" text-anchor="middle" textLength="31.3" lengthAdjust="spacingAndGlyphs" stroke="#404040" stroke-width="0.12">0.28%</text>
<rect x="142.3" y="522.8" width="21.3" height="12.8" fill="url(#g_green)"/>
<ellipse cx="153.0" cy="535.6" rx="10.7" ry="1.0" fill="url(#g_green)"/>
<text x="153.6" y="553.2" font-family="Liberation Sans" font-size="8.20" fill="#595959" text-anchor="middle" textLength="14.1" lengthAdjust="spacingAndGlyphs" stroke="#595959" stroke-width="0.12">JPY</text>
<text x="153.6" y="552.6" font-family="Liberation Sans" font-size="10.50" fill="#404040" text-anchor="middle" textLength="34.9" lengthAdjust="spacingAndGlyphs" stroke="#404040" stroke-width="0.12">-0.09%</text>
<rect x="167.3" y="468.6" width="21.3" height="53.0" fill="url(#g_green)"/>
<ellipse cx="177.9" cy="468.6" rx="10.7" ry="1.0" fill="url(#g_green)"/>
<text x="179.3" y="553.2" font-family="Liberation Sans" font-size="8.20" fill="#595959" text-anchor="middle" textLength="16.3" lengthAdjust="spacingAndGlyphs" stroke="#595959" stroke-width="0.12">CAD</text>
<text x="179.3" y="459.7" font-family="Liberation Sans" font-size="10.50" fill="#404040" text-anchor="middle" textLength="31.3" lengthAdjust="spacingAndGlyphs" stroke="#404040" stroke-width="0.12">0.36%</text>
<rect x="192.2" y="514.8" width="21.3" height="6.9" fill="url(#g_green)"/>
<ellipse cx="202.9" cy="514.8" rx="10.7" ry="1.0" fill="url(#g_green)"/>
<text x="205.0" y="553.2" font-family="Liberation Sans" font-size="8.20" fill="#595959" text-anchor="middle" textLength="16.3" lengthAdjust="spacingAndGlyphs" stroke="#595959" stroke-width="0.12">AUD</text>
<text x="205.0" y="505.9" font-family="Liberation Sans" font-size="10.50" fill="#404040" text-anchor="middle" textLength="31.3" lengthAdjust="spacingAndGlyphs" stroke="#404040" stroke-width="0.12">0.05%</text>
<rect x="217.2" y="493.9" width="21.3" height="27.7" fill="url(#g_green)"/>
<ellipse cx="227.9" cy="493.9" rx="10.7" ry="1.0" fill="url(#g_green)"/>
<text x="230.7" y="553.2" font-family="Liberation Sans" font-size="8.20" fill="#595959" text-anchor="middle" textLength="15.8" lengthAdjust="spacingAndGlyphs" stroke="#595959" stroke-width="0.12">NZD</text>
<text x="230.7" y="485.0" font-family="Liberation Sans" font-size="10.50" fill="#404040" text-anchor="middle" textLength="31.3" lengthAdjust="spacingAndGlyphs" stroke="#404040" stroke-width="0.12">0.19%</text>
<rect x="271.1" y="394.1" width="246.9" height="167.9" fill="#f2f2f2" stroke="#000" stroke-width="2" rx="0.8"/>
<rect x="272.6" y="395.6" width="243.9" height="164.9" fill="none" stroke="#fafafa" stroke-width="1"/>
<text x="288.4" y="412.2" font-family="Liberation Sans" font-size="10.40" font-weight="bold" fill="#595959" textLength="106.6" lengthAdjust="spacingAndGlyphs" stroke="#595959" stroke-width="0.25">Daily % Change CAD</text>
<rect x="315.0" y="435.1" width="188.0" height="1" fill="#d9d9d9"/>
<text x="305.2" y="439.1" font-family="Liberation Sans" font-size="10.00" fill="#595959" text-anchor="end" textLength="26.3" lengthAdjust="spacingAndGlyphs" stroke="#595959" stroke-width="0.12">0.20%</text>
<rect x="315.0" y="449.9" width="188.0" height="1" fill="#d9d9d9"/>
<text x="305.2" y="454.2" font-family="Liberation Sans" font-size="10.00" fill="#595959" text-anchor="end" textLength="26.3" lengthAdjust="spacingAndGlyphs" stroke="#595959" stroke-width="0.12">0.10%</text>
<rect x="315.0" y="464.7" width="188.0" height="1" fill="#d9d9d9"/>
<text x="305.2" y="469.4" font-family="Liberation Sans" font-size="10.00" fill="#595959" text-anchor="end" textLength="26.3" lengthAdjust="spacingAndGlyphs" stroke="#595959" stroke-width="0.12">0.00%</text>
<rect x="315.0" y="479.5" width="188.0" height="1" fill="#d9d9d9"/>
<text x="305.2" y="484.5" font-family="Liberation Sans" font-size="10.00" fill="#595959" text-anchor="end" textLength="29.4" lengthAdjust="spacingAndGlyphs" stroke="#595959" stroke-width="0.12">-0.10%</text>
<rect x="315.0" y="494.3" width="188.0" height="1" fill="#d9d9d9"/>
<text x="305.2" y="499.7" font-family="Liberation Sans" font-size="10.00" fill="#595959" text-anchor="end" textLength="29.4" lengthAdjust="spacingAndGlyphs" stroke="#595959" stroke-width="0.12">-0.20%</text>
<rect x="315.0" y="509.1" width="188.0" height="1" fill="#d9d9d9"/>
<text x="305.2" y="514.8" font-family="Liberation Sans" font-size="10.00" fill="#595959" text-anchor="end" textLength="29.4" lengthAdjust="spacingAndGlyphs" stroke="#595959" stroke-width="0.12">-0.30%</text>
<rect x="315.0" y="523.9" width="188.0" height="1" fill="#d9d9d9"/>
<text x="305.2" y="530.0" font-family="Liberation Sans" font-size="10.00" fill="#595959" text-anchor="end" textLength="29.4" lengthAdjust="spacingAndGlyphs" stroke="#595959" stroke-width="0.12">-0.40%</text>
<rect x="315.0" y="538.7" width="188.0" height="1" fill="#d9d9d9"/>
<rect x="312.0" y="541.7" width="192.0" height="1" fill="#dcdcdc"/>
<text x="305.2" y="545.1" font-family="Liberation Sans" font-size="10.00" fill="#595959" text-anchor="end" textLength="29.4" lengthAdjust="spacingAndGlyphs" stroke="#595959" stroke-width="0.12">-0.50%</text>
<rect x="319.9" y="446.0" width="22.0" height="18.6" fill="url(#g_pink)"/>
<ellipse cx="330.9" cy="446.0" rx="11.0" ry="1.0" fill="url(#g_pink)"/>
<text x="329.1" y="555.8" font-family="Liberation Sans" font-size="8.20" fill="#595959" text-anchor="middle" textLength="16.3" lengthAdjust="spacingAndGlyphs" stroke="#595959" stroke-width="0.12">USD</text>
<text x="329.1" y="437.5" font-family="Liberation Sans" font-size="8.40" fill="#404040" text-anchor="middle" textLength="23.6" lengthAdjust="spacingAndGlyphs" stroke="#404040" stroke-width="0.12">0.13%</text>
<rect x="346.1" y="465.8" width="22.0" height="30.5" fill="url(#g_pink)"/>
<ellipse cx="357.1" cy="496.3" rx="11.0" ry="1.0" fill="url(#g_pink)"/>
<text x="356.1" y="555.8" font-family="Liberation Sans" font-size="8.20" fill="#595959" text-anchor="middle" textLength="16.3" lengthAdjust="spacingAndGlyphs" stroke="#595959" stroke-width="0.12">EUR</text>
<text x="356.1" y="511.3" font-family="Liberation Sans" font-size="8.40" fill="#404040" text-anchor="middle" textLength="26.3" lengthAdjust="spacingAndGlyphs" stroke="#404040" stroke-width="0.12">-0.21%</text>
<rect x="372.2" y="465.8" width="22.0" height="9.8" fill="url(#g_pink)"/>
<ellipse cx="383.2" cy="475.6" rx="11.0" ry="1.0" fill="url(#g_pink)"/>
<text x="383.1" y="555.8" font-family="Liberation Sans" font-size="8.20" fill="#595959" text-anchor="middle" textLength="16.3" lengthAdjust="spacingAndGlyphs" stroke="#595959" stroke-width="0.12">GBP</text>
<text x="383.1" y="490.6" font-family="Liberation Sans" font-size="8.40" fill="#404040" text-anchor="middle" textLength="26.3" lengthAdjust="spacingAndGlyphs" stroke="#404040" stroke-width="0.12">-0.07%</text>
<rect x="398.4" y="465.8" width="22.0" height="63.0" fill="url(#g_pink)"/>
<ellipse cx="409.4" cy="528.8" rx="11.0" ry="1.0" fill="url(#g_pink)"/>
<text x="410.0" y="555.8" font-family="Liberation Sans" font-size="8.20" fill="#595959" text-anchor="middle" textLength="14.1" lengthAdjust="spacingAndGlyphs" stroke="#595959" stroke-width="0.12">JPY</text>
<text x="410.0" y="543.9" font-family="Liberation Sans" font-size="8.40" fill="#404040" text-anchor="middle" textLength="26.3" lengthAdjust="spacingAndGlyphs" stroke="#404040" stroke-width="0.12">-0.43%</text>
<rect x="424.6" y="465.8" width="22.0" height="52.7" fill="url(#g_pink)"/>
<ellipse cx="435.6" cy="518.5" rx="11.0" ry="1.0" fill="url(#g_pink)"/>
<text x="437.0" y="555.8" font-family="Liberation Sans" font-size="8.20" fill="#595959" text-anchor="middle" textLength="15.8" lengthAdjust="spacingAndGlyphs" stroke="#595959" stroke-width="0.12">CHF</text>
<text x="437.0" y="533.5" font-family="Liberation Sans" font-size="8.40" fill="#404040" text-anchor="middle" textLength="26.3" lengthAdjust="spacingAndGlyphs" stroke="#404040" stroke-width="0.12">-0.36%</text>
<rect x="450.8" y="465.8" width="22.0" height="42.3" fill="url(#g_pink)"/>
<ellipse cx="461.8" cy="508.1" rx="11.0" ry="1.0" fill="url(#g_pink)"/>
<text x="463.9" y="555.8" font-family="Liberation Sans" font-size="8.20" fill="#595959" text-anchor="middle" textLength="16.3" lengthAdjust="spacingAndGlyphs" stroke="#595959" stroke-width="0.12">AUD</text>
<text x="463.9" y="523.1" font-family="Liberation Sans" font-size="8.40" fill="#404040" text-anchor="middle" textLength="26.3" lengthAdjust="spacingAndGlyphs" stroke="#404040" stroke-width="0.12">-0.29%</text>
<rect x="476.9" y="465.8" width="22.0" height="15.7" fill="url(#g_pink)"/>
<ellipse cx="487.9" cy="481.5" rx="11.0" ry="1.0" fill="url(#g_pink)"/>
<text x="490.9" y="555.8" font-family="Liberation Sans" font-size="8.20" fill="#595959" text-anchor="middle" textLength="15.8" lengthAdjust="spacingAndGlyphs" stroke="#595959" stroke-width="0.12">NZD</text>
<text x="490.9" y="496.5" font-family="Liberation Sans" font-size="8.40" fill="#404040" text-anchor="middle" textLength="25.7" lengthAdjust="spacingAndGlyphs" stroke="#404040" stroke-width="0.12">-0.11%</text>
<rect x="533.3" y="395.1" width="246.7" height="168.7" fill="#f2f2f2" stroke="#000" stroke-width="2" rx="0.8"/>
<rect x="534.8" y="396.6" width="243.7" height="165.7" fill="none" stroke="#fafafa" stroke-width="1"/>
<text x="550.3" y="412.9" font-family="Liberation Sans" font-size="10.40" font-weight="bold" fill="#595959" textLength="107.2" lengthAdjust="spacingAndGlyphs" stroke="#595959" stroke-width="0.25">Daily % Change AUD</text>
<rect x="581.0" y="434.9" width="184.0" height="1" fill="#d9d9d9"/>
<text x="572.0" y="437.0" font-family="Liberation Sans" font-size="9.50" fill="#595959" text-anchor="end" textLength="26.3" lengthAdjust="spacingAndGlyphs" stroke="#595959" stroke-width="0.12">0.60%</text>
<rect x="581.0" y="460.1" width="184.0" height="1" fill="#d9d9d9"/>
<text x="572.0" y="463.0" font-family="Liberation Sans" font-size="9.50" fill="#595959" text-anchor="end" textLength="26.3" lengthAdjust="spacingAndGlyphs" stroke="#595959" stroke-width="0.12">0.40%</text>
<rect x="581.0" y="485.3" width="184.0" height="1" fill="#d9d9d9"/>
<text x="572.0" y="489.0" font-family="Liberation Sans" font-size="9.50" fill="#595959" text-anchor="end" textLength="26.3" lengthAdjust="spacingAndGlyphs" stroke="#595959" stroke-width="0.12">0.20%</text>
<rect x="581.0" y="510.5" width="184.0" height="1" fill="#d9d9d9"/>
<text x="572.0" y="515.0" font-family="Liberation Sans" font-size="9.50" fill="#595959" text-anchor="end" textLength="26.3" lengthAdjust="spacingAndGlyphs" stroke="#595959" stroke-width="0.12">0.00%</text>
<rect x="581.0" y="535.7" width="184.0" height="1" fill="#d9d9d9"/>
<rect x="578.0" y="538.7" width="188.0" height="1" fill="#dcdcdc"/>
<text x="572.0" y="541.0" font-family="Liberation Sans" font-size="9.50" fill="#595959" text-anchor="end" textLength="29.4" lengthAdjust="spacingAndGlyphs" stroke="#595959" stroke-width="0.12">-0.20%</text>
<rect x="586.8" y="449.3" width="21.5" height="61.1" fill="url(#g_green)"/>
<ellipse cx="597.5" cy="449.3" rx="10.8" ry="1.0" fill="url(#g_green)"/>
<text x="595.9" y="550.9" font-family="Liberation Sans" font-size="8.20" fill="#595959" text-anchor="middle" textLength="16.3" lengthAdjust="spacingAndGlyphs" stroke="#595959" stroke-width="0.12">USD</text>
<text x="595.9" y="440.4" font-family="Liberation Sans" font-size="10.50" fill="#404040" text-anchor="middle" textLength="31.3" lengthAdjust="spacingAndGlyphs" stroke="#404040" stroke-width="0.12">0.49%</text>
<rect x="612.2" y="500.9" width="21.5" height="9.5" fill="url(#g_green)"/>
<ellipse cx="623.0" cy="500.9" rx="10.8" ry="1.0" fill="url(#g_green)"/>
<text x="622.1" y="550.9" font-family="Liberation Sans" font-size="8.20" fill="#595959" text-anchor="middle" textLength="16.3" lengthAdjust="spacingAndGlyphs" stroke="#595959" stroke-width="0.12">EUR</text>
<text x="622.1" y="492.0" font-family="Liberation Sans" font-size="10.50" fill="#404040" text-anchor="middle" textLength="31.3" lengthAdjust="spacingAndGlyphs" stroke="#404040" stroke-width="0.12">0.08%</text>
<rect x="637.7" y="482.0" width="21.5" height="28.4" fill="url(#g_green)"/>
<ellipse cx="648.4" cy="482.0" rx="10.8" ry="1.0" fill="url(#g_green)"/>
<text x="648.3" y="550.9" font-family="Liberation Sans" font-size="8.20" fill="#595959" text-anchor="middle" textLength="16.3" lengthAdjust="spacingAndGlyphs" stroke="#595959" stroke-width="0.12">GBP</text>
<text x="648.3" y="473.1" font-family="Liberation Sans" font-size="10.50" fill="#404040" text-anchor="middle" textLength="31.3" lengthAdjust="spacingAndGlyphs" stroke="#404040" stroke-width="0.12">0.23%</text>
<rect x="663.1" y="511.6" width="21.5" height="17.0" fill="url(#g_green)"/>
<ellipse cx="673.9" cy="528.6" rx="10.8" ry="1.0" fill="url(#g_green)"/>
<text x="674.5" y="550.9" font-family="Liberation Sans" font-size="8.20" fill="#595959" text-anchor="middle" textLength="14.1" lengthAdjust="spacingAndGlyphs" stroke="#595959" stroke-width="0.12">JPY</text>
<text x="674.5" y="545.6" font-family="Liberation Sans" font-size="10.50" fill="#404040" text-anchor="middle" textLength="34.9" lengthAdjust="spacingAndGlyphs" stroke="#404040" stroke-width="0.12">-0.14%</text>
<rect x="688.6" y="511.6" width="21.5" height="5.7" fill="url(#g_green)"/>
<ellipse cx="699.3" cy="517.3" rx="10.8" ry="1.0" fill="url(#g_green)"/>
<text x="700.7" y="550.9" font-family="Liberation Sans" font-size="8.20" fill="#595959" text-anchor="middle" textLength="15.8" lengthAdjust="spacingAndGlyphs" stroke="#595959" stroke-width="0.12">CHF</text>
<text x="700.7" y="534.3" font-family="Liberation Sans" font-size="10.50" fill="#404040" text-anchor="middle" textLength="34.9" lengthAdjust="spacingAndGlyphs" stroke="#404040" stroke-width="0.12">-0.05%</text>
<rect x="714.0" y="474.5" width="21.5" height="35.9" fill="url(#g_green)"/>
<ellipse cx="724.8" cy="474.5" rx="10.8" ry="1.0" fill="url(#g_green)"/>
<text x="726.9" y="550.9" font-family="Liberation Sans" font-size="8.20" fill="#595959" text-anchor="middle" textLength="16.3" lengthAdjust="spacingAndGlyphs" stroke="#595959" stroke-width="0.12">CAD</text>
<text x="726.9" y="465.6" font-family="Liberation Sans" font-size="10.50" fill="#404040" text-anchor="middle" textLength="31.3" lengthAdjust="spacingAndGlyphs" stroke="#404040" stroke-width="0.12">0.29%</text>
<rect x="739.5" y="487.1" width="21.5" height="23.3" fill="url(#g_green)"/>
<ellipse cx="750.2" cy="487.1" rx="10.8" ry="1.0" fill="url(#g_green)"/>
<text x="753.1" y="550.9" font-family="Liberation Sans" font-size="8.20" fill="#595959" text-anchor="middle" textLength="15.8" lengthAdjust="spacingAndGlyphs" stroke="#595959" stroke-width="0.12">NZD</text>
<text x="753.1" y="478.2" font-family="Liberation Sans" font-size="10.50" fill="#404040" text-anchor="middle" textLength="31.3" lengthAdjust="spacingAndGlyphs" stroke="#404040" stroke-width="0.12">0.19%</text>
<rect x="793.3" y="395.1" width="245.2" height="168.7" fill="#f2f2f2" stroke="#000" stroke-width="2" rx="0.8"/>
<rect x="794.8" y="396.6" width="242.2" height="165.7" fill="none" stroke="#fafafa" stroke-width="1"/>
<text x="811.0" y="411.9" font-family="Liberation Sans" font-size="10.40" font-weight="bold" fill="#595959" textLength="106.0" lengthAdjust="spacingAndGlyphs" stroke="#595959" stroke-width="0.25">Daily % Change NZD</text>
<rect x="841.0" y="433.7" width="184.0" height="1" fill="#d9d9d9"/>
<text x="832.9" y="437.0" font-family="Liberation Sans" font-size="9.50" fill="#595959" text-anchor="end" textLength="26.3" lengthAdjust="spacingAndGlyphs" stroke="#595959" stroke-width="0.12">0.40%</text>
<rect x="841.0" y="448.4" width="184.0" height="1" fill="#d9d9d9"/>
<text x="832.9" y="451.9" font-family="Liberation Sans" font-size="9.50" fill="#595959" text-anchor="end" textLength="26.3" lengthAdjust="spacingAndGlyphs" stroke="#595959" stroke-width="0.12">0.30%</text>
<rect x="841.0" y="463.1" width="184.0" height="1" fill="#d9d9d9"/>
<text x="832.9" y="466.8" font-family="Liberation Sans" font-size="9.50" fill="#595959" text-anchor="end" textLength="26.3" lengthAdjust="spacingAndGlyphs" stroke="#595959" stroke-width="0.12">0.20%</text>
<rect x="841.0" y="477.8" width="184.0" height="1" fill="#d9d9d9"/>
<text x="832.9" y="481.6" font-family="Liberation Sans" font-size="9.50" fill="#595959" text-anchor="end" textLength="26.3" lengthAdjust="spacingAndGlyphs" stroke="#595959" stroke-width="0.12">0.10%</text>
<rect x="841.0" y="492.5" width="184.0" height="1" fill="#d9d9d9"/>
<text x="832.9" y="496.5" font-family="Liberation Sans" font-size="9.50" fill="#595959" text-anchor="end" textLength="26.3" lengthAdjust="spacingAndGlyphs" stroke="#595959" stroke-width="0.12">0.00%</text>
<rect x="841.0" y="507.2" width="184.0" height="1" fill="#d9d9d9"/>
<text x="832.9" y="511.4" font-family="Liberation Sans" font-size="9.50" fill="#595959" text-anchor="end" textLength="29.4" lengthAdjust="spacingAndGlyphs" stroke="#595959" stroke-width="0.12">-0.10%</text>
<rect x="841.0" y="521.9" width="184.0" height="1" fill="#d9d9d9"/>
<text x="832.9" y="526.2" font-family="Liberation Sans" font-size="9.50" fill="#595959" text-anchor="end" textLength="29.4" lengthAdjust="spacingAndGlyphs" stroke="#595959" stroke-width="0.12">-0.20%</text>
<rect x="841.0" y="536.6" width="184.0" height="1" fill="#d9d9d9"/>
<rect x="838.0" y="539.6" width="188.0" height="1" fill="#dcdcdc"/>
<text x="832.9" y="541.1" font-family="Liberation Sans" font-size="9.50" fill="#595959" text-anchor="end" textLength="29.4" lengthAdjust="spacingAndGlyphs" stroke="#595959" stroke-width="0.12">-0.30%</text>
<rect x="846.8" y="446.0" width="21.0" height="46.4" fill="url(#g_blue)"/>
<ellipse cx="857.3" cy="446.0" rx="10.5" ry="1.0" fill="url(#g_blue)"/>
<text x="855.6" y="552.5" font-family="Liberation Sans" font-size="8.20" fill="#595959" text-anchor="middle" textLength="16.3" lengthAdjust="spacingAndGlyphs" stroke="#595959" stroke-width="0.12">USD</text>
<text x="855.6" y="436.6" font-family="Liberation Sans" font-size="10.50" fill="#404040" text-anchor="middle" textLength="28.9" lengthAdjust="spacingAndGlyphs" stroke="#404040" stroke-width="0.12">0.32%</text>
<rect x="872.2" y="493.6" width="21.0" height="12.6" fill="url(#g_blue)"/>
<ellipse cx="882.8" cy="506.2" rx="10.5" ry="1.0" fill="url(#g_blue)"/>
<text x="881.8" y="552.5" font-family="Liberation Sans" font-size="8.20" fill="#595959" text-anchor="middle" textLength="16.3" lengthAdjust="spacingAndGlyphs" stroke="#595959" stroke-width="0.12">EUR</text>
<text x="881.8" y="520.8" font-family="Liberation Sans" font-size="10.50" fill="#404040" text-anchor="middle" textLength="32.3" lengthAdjust="spacingAndGlyphs" stroke="#404040" stroke-width="0.12">-0.09%</text>
<rect x="897.7" y="485.6" width="21.0" height="6.8" fill="url(#g_blue)"/>
<ellipse cx="908.2" cy="485.6" rx="10.5" ry="1.0" fill="url(#g_blue)"/>
<text x="908.0" y="552.5" font-family="Liberation Sans" font-size="8.20" fill="#595959" text-anchor="middle" textLength="16.3" lengthAdjust="spacingAndGlyphs" stroke="#595959" stroke-width="0.12">GBP</text>
<text x="908.0" y="476.2" font-family="Liberation Sans" font-size="10.50" fill="#404040" text-anchor="middle" textLength="28.9" lengthAdjust="spacingAndGlyphs" stroke="#404040" stroke-width="0.12">0.05%</text>
<rect x="923.1" y="493.6" width="21.0" height="36.1" fill="url(#g_blue)"/>
<ellipse cx="933.6" cy="529.8" rx="10.5" ry="1.0" fill="url(#g_blue)"/>
<text x="934.2" y="552.5" font-family="Liberation Sans" font-size="8.20" fill="#595959" text-anchor="middle" textLength="14.1" lengthAdjust="spacingAndGlyphs" stroke="#595959" stroke-width="0.12">JPY</text>
<text x="934.2" y="544.4" font-family="Liberation Sans" font-size="10.50" fill="#404040" text-anchor="middle" textLength="32.3" lengthAdjust="spacingAndGlyphs" stroke="#404040" stroke-width="0.12">-0.25%</text>
<rect x="948.6" y="493.6" width="21.0" height="27.3" fill="url(#g_blue)"/>
<ellipse cx="959.1" cy="520.9" rx="10.5" ry="1.0" fill="url(#g_blue)"/>
<text x="960.5" y="552.5" font-family="Liberation Sans" font-size="8.20" fill="#595959" text-anchor="middle" textLength="15.8" lengthAdjust="spacingAndGlyphs" stroke="#595959" stroke-width="0.12">CHF</text>
<text x="960.5" y="535.5" font-family="Liberation Sans" font-size="10.50" fill="#404040" text-anchor="middle" textLength="32.3" lengthAdjust="spacingAndGlyphs" stroke="#404040" stroke-width="0.12">-0.19%</text>
<rect x="974.0" y="476.8" width="21.0" height="15.6" fill="url(#g_blue)"/>
<ellipse cx="984.5" cy="476.8" rx="10.5" ry="1.0" fill="url(#g_blue)"/>
<text x="986.7" y="552.5" font-family="Liberation Sans" font-size="8.20" fill="#595959" text-anchor="middle" textLength="16.3" lengthAdjust="spacingAndGlyphs" stroke="#595959" stroke-width="0.12">CAD</text>
<text x="986.7" y="467.4" font-family="Liberation Sans" font-size="10.50" fill="#404040" text-anchor="middle" textLength="28.1" lengthAdjust="spacingAndGlyphs" stroke="#404040" stroke-width="0.12">0.11%</text>
<rect x="999.5" y="493.6" width="21.0" height="27.3" fill="url(#g_blue)"/>
<ellipse cx="1010.0" cy="520.9" rx="10.5" ry="1.0" fill="url(#g_blue)"/>
<text x="1012.9" y="552.5" font-family="Liberation Sans" font-size="8.20" fill="#595959" text-anchor="middle" textLength="16.3" lengthAdjust="spacingAndGlyphs" stroke="#595959" stroke-width="0.12">AUD</text>
<text x="1012.9" y="535.5" font-family="Liberation Sans" font-size="10.50" fill="#404040" text-anchor="middle" textLength="32.3" lengthAdjust="spacingAndGlyphs" stroke="#404040" stroke-width="0.12">-0.19%</text>
</svg></body></html>
